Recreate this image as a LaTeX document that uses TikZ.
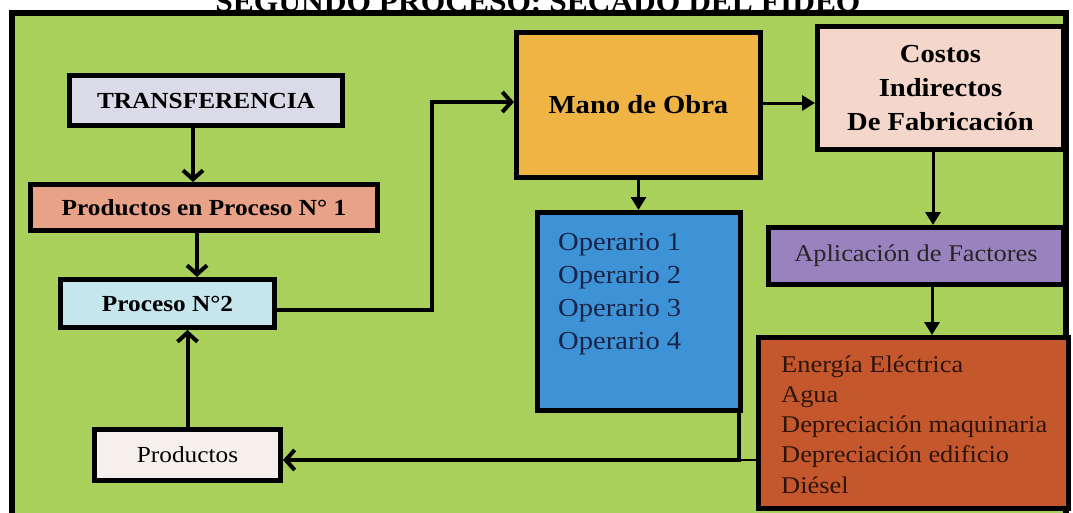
\documentclass[tikz,border=0pt]{standalone}
\usepackage{fontspec}
\setmainfont{Liberation Serif}[FakeStretch=1.1]
\usetikzlibrary{arrows.meta,calc}
\definecolor{bggreen}{RGB}{170,208,92}
\definecolor{transc}{RGB}{218,218,232}
\definecolor{ppc}{RGB}{232,162,136}
\definecolor{procc}{RGB}{198,230,238}
\definecolor{prodc}{RGB}{246,240,236}
\definecolor{manoc}{RGB}{240,180,68}
\definecolor{costc}{RGB}{245,214,202}
\definecolor{operc}{RGB}{62,146,214}
\definecolor{aplc}{RGB}{154,130,190}
\definecolor{enerc}{RGB}{196,88,44}
\definecolor{navytxt}{RGB}{24,36,72}
\definecolor{brtxt}{RGB}{48,20,10}
\begin{document}
\begin{tikzpicture}[x=1pt,y=-1pt,
  box/.style={draw=black, line width=5pt, rectangle, inner sep=0pt, align=center,
    append after command={\pgfextra{\draw[white,opacity=.35,line width=2pt]
      ($(\tikzlastnode.north west)+(7,7)$) rectangle ($(\tikzlastnode.south east)+(-7,-7)$);}}},
  arr/.style={line width=4pt, -{Straight Barb[length=9pt,width=20pt]}},
  tri/.style={line width=3pt, -{Triangle[length=13pt,width=15pt]}},
  boldA/.style={font=\fontsize{23}{28}\selectfont\bfseries},
  boldB/.style={font=\fontsize{26}{34}\selectfont\bfseries},
]
\useasboundingbox (0,0) rectangle (1073,512);
\clip (0,0) rectangle (1073,512);
\fill[white] (0,0) rectangle (1073,512);
% title
\node[anchor=base, inner sep=0pt, font=\fontsize{28.6}{34}\selectfont\bfseries] (title) at (538,11) {SEGUNDO PROCESO: SECADO DEL FIDEO};
% frame
\draw[line width=6pt, fill=bggreen] (11.5,13) rectangle (1066,560);
% left column
\node[box, fill=transc, minimum width=273pt, minimum height=50pt, boldA] (trans) at (206,100.5) {TRANSFERENCIA};
\node[box, fill=ppc, minimum width=347pt, minimum height=46pt, boldA] (pp1) at (204,207.5) {Productos en Proceso N° 1};
\node[box, fill=procc, minimum width=214pt, minimum height=48pt, boldA] (p2) at (167.5,303.5) {Proceso N°2};
\node[box, fill=prodc, minimum width=186pt, minimum height=51pt, font=\fontsize{23}{28}\selectfont] (prod) at (187.5,455) {Productos};
% right part
\node[box, fill=manoc, minimum width=244pt, minimum height=145pt, boldB] (mano) at (638.5,105) {Mano de Obra};
\node[box, fill=costc, minimum width=246pt, minimum height=123pt, boldB] (costos) at (940.5,88) {Costos\\Indirectos\\De Fabricación};
\node[box, fill=operc, minimum width=203pt, minimum height=198pt] (oper) at (639,311.5) {};
\node[anchor=base west, inner sep=0pt, text=navytxt, font=\fontsize{26}{33.3}\selectfont] (opertxt) at (558,250)
  {\parbox[t]{180pt}{\raggedright Operario 1\\Operario 2\\Operario 3\\Operario 4}};
\node[box, fill=aplc, minimum width=295pt, minimum height=57pt, text=black!85, font=\fontsize{24}{28}\selectfont] (apl) at (916,256) {Aplicación de Factores};
\node[box, fill=enerc, minimum width=310pt, minimum height=171pt] (ener) at (913.5,423) {};
\node[anchor=base west, inner sep=0pt, text=brtxt, font=\fontsize{24}{30.3}\selectfont] (enertxt) at (781,372)
  {\parbox[t]{285pt}{\raggedright Energía Eléctrica\\Agua\\Depreciación maquinaria\\Depreciación edificio\\Diésel}};
% connectors
\draw[arr] (trans.south -| 193,0) -- (pp1.north -| 193,0);
\draw[arr] (pp1.south -| 197,0) -- (p2.north -| 197,0);
\draw[arr] (p2.east |- 0,310) -| (432,102) -- (mano.west |- 0,102);
\draw[tri] (mano.east |- 0,103) -- (costos.west |- 0,103);
\draw[tri] (mano.south) -- (oper.north -| mano.south);
\draw[tri] (costos.south -| 933,0) -- (apl.north -| 933,0);
\draw[tri] (apl.south -| 932,0) -- (ener.north -| 932,0);
\draw[arr] (prod.north) -- (p2.south -| prod.north);
\draw[line width=1.5pt] (ener.west |- 0,460) -- (739,460);
\draw[arr] (oper.south -| 739,0) -- (739,460) -- (prod.east |- 0,460);
\end{tikzpicture}
\end{document}
